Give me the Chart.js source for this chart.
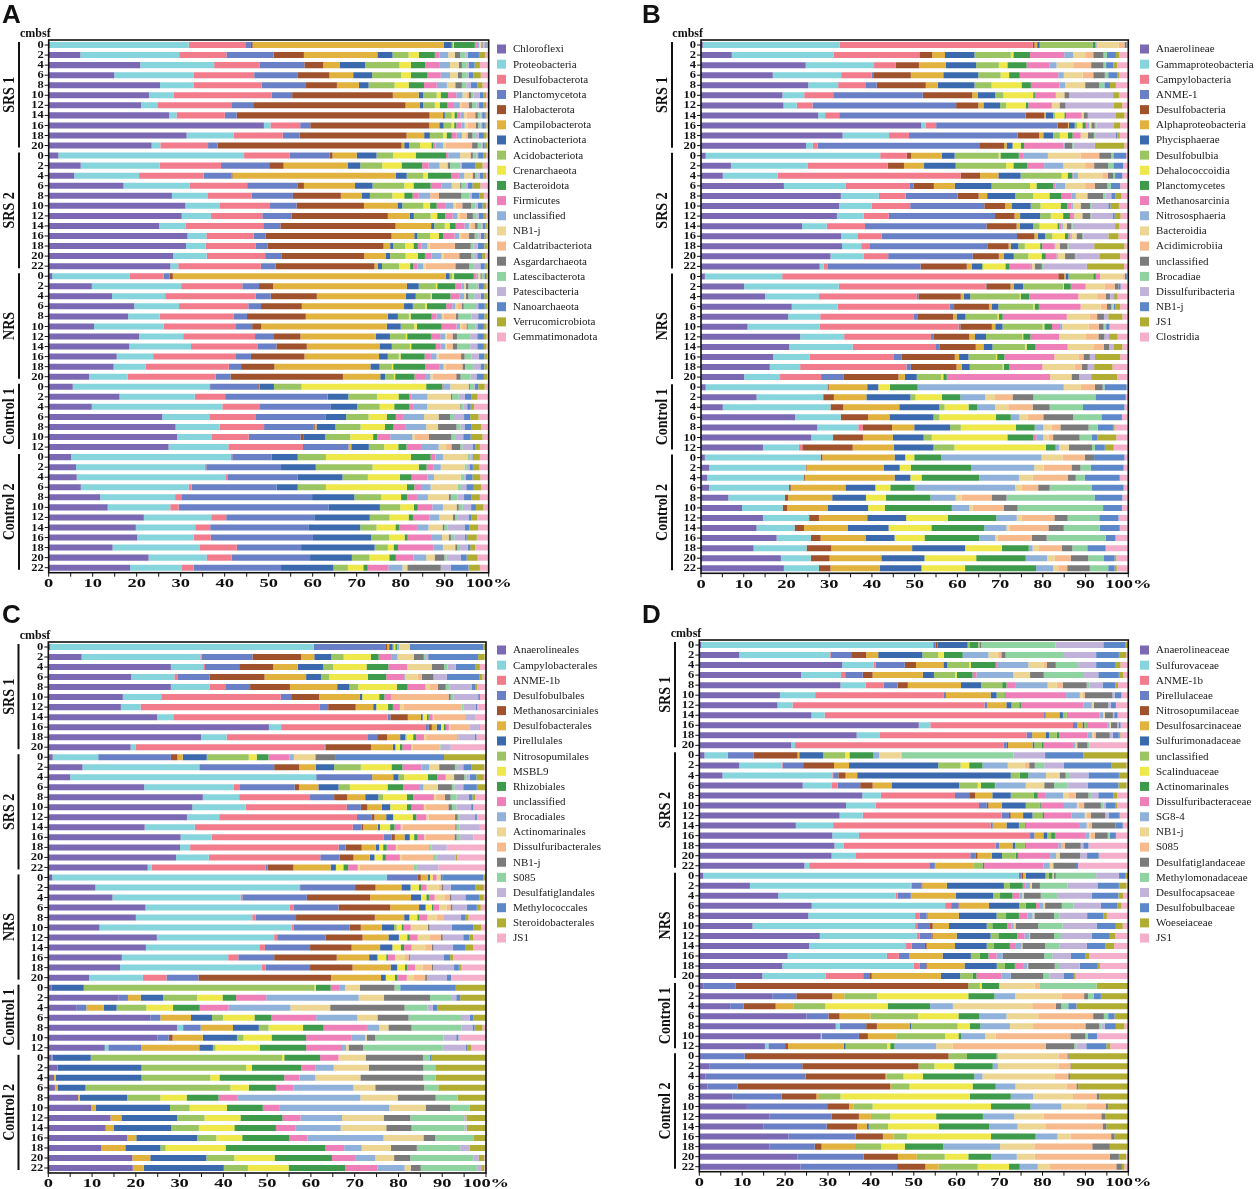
<!DOCTYPE html>
<html>
<head>
<meta charset="utf-8">
<script src="https://cdn.jsdelivr.net/npm/chart.js@4.4.1/dist/chart.umd.min.js"></script>
<style>
  body { margin: 0; background: #fff; }
  #wrap { position: relative; width: 1258px; height: 1189px; }
  canvas { position: absolute; }
</style>
</head>
<body>
<div id="wrap">
  <canvas id="panelA" width="629" height="600" style="left:0;top:0"></canvas>
  <canvas id="panelB" width="618" height="600" style="left:640px;top:0"></canvas>
  <canvas id="panelC" width="629" height="589" style="left:0;top:600px"></canvas>
  <canvas id="panelD" width="618" height="589" style="left:640px;top:600px"></canvas>
</div>
<script>
// sample groups and depth tick labels (cmbsf)
const groupNames = ['SRS 1', 'SRS 2', 'NRS', 'Control 1', 'Control 2'];
const depthsSRS1 = ['0', '2', '4', '6', '8', '10', '12', '14', '16', '18', '20'];
const depthsSRS2 = ['0', '2', '4', '6', '8', '10', '12', '14', '16', '18', '20', '22'];
const depthsNRS = ['0', '2', '4', '6', '8', '10', '12', '14', '16', '18', '20'];
const depthsC1 = ['0', '2', '4', '6', '8', '10', '12'];
const depthsC2 = ['0', '2', '4', '6', '8', '10', '12', '14', '16', '18', '20', '22'];
const xTicks = [0, 10, 20, 30, 40, 50, 60, 70, 80, 90, 100];

const palette = ['#7b69b4', '#86d4dc', '#f27b8c', '#6a80c6', '#a0522d', '#e1b23e', '#3a69ad', '#9bc462',
  '#eee84a', '#3f9b4c', '#ee7fb9', '#8fb1da', '#edd594', '#f7ba8c', '#7b7b7b', '#8fd3a0',
  '#c1b2d9', '#5c87c9', '#b1ad33', '#f6afca'];

// A: phylum
const A_names = ['Chloroflexi', 'Proteobacteria', 'Desulfobacterota', 'Planctomycetota', 'Halobacterota',
  'Campilobacterota', 'Actinobacteriota', 'Acidobacteriota', 'Crenarchaeota', 'Bacteroidota', 'Firmicutes',
  'unclassified', 'NB1-j', 'Caldatribacteriota', 'Asgardarchaeota', 'Latescibacterota', 'Patescibacteria',
  'Nanoarchaeota', 'Verrucomicrobiota', 'Gemmatimonadota'];
const A_SRS1 = [
  [0.2, 32, 13, 1.3, 0.4, 44, 1.8, 0.3, 0.2, 4.8, 0.5, 0.5, 0.3, 0.2, 0.3, 0.2, 0.4, 0.3, 0.3, 0.2],
  [7.1, 22.2, 10.6, 10.6, 6.8, 16.5, 3.4, 3.6, 2.3, 3.6, 1.0, 2.0, 1.5, 0, 1.2, 1.2, 0.5, 2.5, 1.4, 0.8],
  [20.8, 16.8, 10.4, 10.1, 4.3, 3.8, 5.7, 7.8, 2.6, 3.3, 3.3, 2.3, 2.0, 0, 0.7, 1.1, 0.5, 1.3, 1.2, 2.0],
  [14.9, 18.1, 13.7, 9.8, 7.3, 5.4, 4.3, 6.6, 2.2, 3.8, 3.0, 2.1, 1.8, 0, 0.9, 1.1, 0.5, 1.0, 1.7, 1.8],
  [25.3, 7.7, 15.4, 9.9, 7.2, 5.0, 2.2, 5.9, 3.2, 3.5, 2.9, 2.3, 1.9, 0, 1.5, 1.0, 1.0, 1.5, 1.2, 1.4],
  [22.9, 5.6, 22.4, 4.7, 23.0, 5.9, 1.0, 3.1, 0.9, 1.7, 1.9, 1.4, 0.9, 0.6, 0.5, 0.5, 1.5, 0.8, 0.6, 0.6],
  [21.1, 3.7, 16.9, 5.0, 34.8, 3.3, 0.7, 2.7, 1.1, 1.8, 1.5, 1.3, 0.5, 1.5, 0.8, 1.0, 0.6, 1.0, 0.6, 0.6],
  [27.7, 1.7, 11.1, 2.7, 44.4, 3.1, 0.4, 1.6, 0.6, 0.6, 0.8, 0.8, 0.6, 2.0, 0.6, 0.6, 0.4, 0.6, 0.4, 0.5],
  [49.2, 1.5, 6.8, 2.3, 27.2, 2.3, 1.0, 1.8, 0.6, 0.5, 1.2, 0.7, 0.7, 1.8, 0.6, 0.5, 0.4, 0.6, 0.4, 0.5],
  [31.4, 10.7, 11.2, 3.8, 24.4, 4.0, 1.3, 3.0, 0.8, 1.2, 1.1, 1.2, 0.8, 0.5, 1.1, 0.8, 0.6, 1.2, 0.6, 0.5],
  [23.5, 2.0, 10.9, 2.2, 42.0, 0.6, 1.1, 2.5, 2.6, 0.5, 0.5, 1.7, 0.5, 6.1, 1.3, 0.8, 0.4, 0.4, 0.6, 0.3]
];
const A_SRS2 = [
  [2.2, 42.2, 10.4, 9.0, 0.7, 5.5, 4.5, 3.8, 5.1, 6.9, 0.5, 2.7, 2.1, 0.3, 0.5, 0.8, 0.4, 1.2, 0.6, 0.6],
  [7.3, 18.0, 14.0, 11.0, 3.3, 14.7, 2.8, 5.0, 4.4, 4.7, 1.5, 2.5, 1.8, 0, 0.6, 2.3, 0.4, 3.1, 1.6, 1.4],
  [5.8, 14.8, 14.7, 6.4, 0.2, 37.2, 2.5, 3.8, 1.0, 5.4, 1.7, 1.2, 1.7, 0.3, 0.5, 0.6, 0.5, 0.8, 0.6, 0.6],
  [17.0, 15.0, 13.1, 11.4, 1.5, 11.6, 4.0, 7.2, 2.1, 3.9, 2.5, 2.3, 1.9, 0, 0.3, 1.0, 0.5, 1.0, 1.8, 1.9],
  [28.0, 8.2, 9.9, 9.4, 10.9, 4.7, 1.9, 5.1, 2.7, 1.9, 1.4, 2.6, 0, 2.0, 5.1, 1.9, 0.5, 1.7, 1.0, 1.1],
  [31.0, 7.7, 11.5, 6.0, 15.3, 7.6, 1.1, 4.8, 1.5, 1.5, 1.9, 1.9, 0.5, 1.5, 2.0, 1.0, 0.5, 1.1, 0.8, 0.6],
  [30.2, 6.6, 11.7, 6.6, 21.9, 5.0, 0.9, 3.8, 1.5, 1.8, 1.7, 1.1, 0.5, 1.6, 1.4, 0.8, 0.5, 1.0, 0.7, 0.6],
  [25.1, 6.1, 17.6, 3.9, 26.2, 8.1, 0.7, 2.4, 1.1, 1.4, 2.0, 1.0, 0.5, 0.9, 0.6, 0.8, 0.4, 0.5, 0.4, 0.4],
  [31.7, 4.3, 10.8, 2.7, 28.8, 5.2, 0.7, 2.9, 2.0, 1.0, 2.6, 1.0, 0.5, 1.7, 1.4, 0.8, 0.6, 0.8, 0.5, 0.5],
  [31.2, 4.5, 11.3, 2.8, 26.3, 1.5, 0.7, 2.7, 1.9, 1.0, 0.8, 1.4, 0.5, 5.7, 3.6, 0.6, 1.0, 1.5, 0.6, 0.4],
  [28.3, 7.6, 13.3, 3.8, 18.7, 4.9, 1.0, 3.5, 2.8, 1.6, 1.5, 2.2, 0.5, 3.6, 2.7, 0.6, 0.8, 1.1, 0.7, 0.8],
  [27.7, 1.8, 18.8, 3.4, 22.5, 0.7, 1.0, 3.9, 2.5, 0.7, 1.0, 1.3, 0.5, 6.8, 3.2, 1.1, 1.4, 1.0, 0.6, 0.3]
];
const A_NRS = [
  [0.8, 17.7, 7.7, 1.4, 0.7, 62.2, 0.9, 0.6, 0.4, 4.5, 0.6, 0.4, 0.3, 0.2, 0.3, 0.3, 0.3, 0.4, 0.3, 0.3],
  [9.8, 20.3, 13.9, 3.8, 3.2, 30.4, 2.7, 3.9, 0.3, 4.1, 1.4, 0.6, 0.4, 0, 0.6, 1.9, 0.5, 1.1, 0.6, 0.5],
  [14.4, 12.1, 20.6, 3.4, 10.5, 20.2, 2.3, 3.4, 0.3, 4.2, 2.1, 1.0, 0.4, 0, 0.6, 1.3, 1.5, 0.8, 0.6, 0.4],
  [19.5, 10.2, 15.8, 2.9, 9.3, 23.3, 2.0, 2.8, 0.4, 4.4, 1.4, 0.7, 0.4, 1.1, 0.4, 2.8, 0.5, 1.5, 0.6, 0.3],
  [18.1, 7.2, 16.8, 3.1, 13.4, 18.7, 2.3, 2.5, 0.4, 4.8, 1.1, 1.2, 0.5, 2.7, 0.6, 3.0, 1.5, 1.4, 0.6, 0.4],
  [10.4, 16.0, 16.6, 3.7, 2.1, 28.8, 3.2, 3.1, 0.6, 5.7, 3.4, 0.8, 0.5, 1.0, 0.3, 1.7, 0.5, 1.5, 0.6, 0.5],
  [20.5, 10.0, 16.3, 4.3, 6.0, 17.1, 3.2, 3.6, 0.3, 5.4, 2.1, 1.1, 0.4, 1.3, 1.0, 3.0, 1.6, 1.5, 0.6, 0.5],
  [18.3, 14.0, 15.2, 4.2, 6.9, 16.5, 2.8, 4.1, 0.3, 5.6, 1.1, 1.0, 0.4, 1.3, 1.0, 3.0, 1.6, 1.5, 0.6, 0.5],
  [15.5, 8.3, 18.9, 3.4, 12.2, 17.0, 2.0, 2.5, 0.4, 5.5, 1.4, 1.3, 0.5, 5.1, 0.8, 1.6, 1.6, 1.3, 0.6, 0.4],
  [14.8, 7.3, 19.0, 2.8, 7.6, 21.9, 2.1, 2.8, 0.3, 7.3, 3.2, 1.0, 0.5, 3.8, 0.6, 2.0, 1.5, 0.9, 0.6, 0.4],
  [9.2, 8.8, 20.0, 3.4, 25.6, 8.5, 1.1, 2.0, 0.3, 4.4, 2.4, 1.2, 0.5, 5.4, 1.0, 2.3, 1.3, 1.7, 0.7, 0.4]
];
const A_C1 = [
  [5.5, 31.2, 0.2, 11.0, 0.3, 0.1, 3.2, 6.3, 28.5, 3.7, 0.4, 1.4, 4.2, 0, 0.3, 0.7, 0.4, 0.8, 1.5, 0.9],
  [16.1, 17.1, 6.9, 23.3, 0, 0, 4.7, 6.5, 4.9, 2.5, 0.5, 3.6, 5.3, 0, 0.3, 1.5, 1.4, 1.5, 1.4, 2.5],
  [9.8, 29.7, 8.4, 16.3, 0, 0, 6.0, 5.1, 3.3, 3.5, 0.8, 3.2, 7.4, 0, 0.2, 0.7, 0.8, 0.8, 0.8, 3.3],
  [25.8, 10.7, 10.6, 15.9, 0, 0, 4.6, 5.1, 4.1, 2.1, 1.6, 4.8, 3.3, 0, 2.6, 0.9, 2.3, 1.4, 1.9, 2.3],
  [28.8, 10.0, 10.1, 11.3, 0.2, 0.4, 4.3, 5.7, 5.5, 2.0, 2.8, 4.6, 2.7, 0, 4.2, 0.9, 0.9, 1.5, 2.3, 1.7],
  [29.2, 7.8, 8.5, 11.8, 0.6, 0, 5.0, 5.7, 5.2, 0.9, 3.0, 5.0, 0.6, 3.2, 5.1, 0.8, 1.9, 1.7, 2.7, 1.4],
  [27.3, 13.6, 17.0, 10.4, 0, 0.6, 4.0, 3.5, 3.2, 1.9, 3.3, 4.0, 1.7, 1.2, 2.0, 0.5, 2.3, 0.6, 1.1, 2.0]
];
const A_C2 = [
  [5.1, 36.3, 0.3, 9.0, 0, 0, 5.9, 6.4, 19.3, 4.5, 1.1, 1.7, 5.7, 0, 0, 0.5, 0.5, 0.3, 1.4, 2.0],
  [6.2, 29.3, 0.3, 17.0, 0, 0, 7.9, 12.9, 10.5, 1.8, 1.5, 1.7, 5.4, 0, 0, 0.5, 0.6, 0.8, 1.5, 2.1],
  [6.4, 34.1, 0.3, 16.1, 0, 0, 10.2, 5.8, 7.3, 2.7, 3.6, 1.5, 6.1, 0, 0, 0.8, 0.4, 1.5, 1.8, 1.9],
  [7.3, 24.5, 0.7, 19.3, 0, 0, 4.8, 6.4, 18.4, 1.7, 1.5, 2.2, 6.1, 0, 0, 0.8, 1.2, 1.7, 1.7, 1.7],
  [11.7, 17.0, 1.4, 29.7, 0, 0, 9.6, 6.1, 4.5, 1.4, 2.2, 2.5, 4.7, 0, 0.5, 1.5, 1.5, 1.6, 2.0, 2.0],
  [13.4, 14.2, 1.9, 34.0, 0, 0, 11.7, 4.6, 3.1, 0.9, 3.3, 2.4, 3.1, 0, 0.5, 0.9, 1.9, 1.1, 1.7, 1.2],
  [21.6, 15.3, 3.4, 20.0, 0, 0, 12.6, 4.5, 4.3, 1.0, 3.7, 2.3, 3.1, 0, 0.5, 0.6, 2.4, 0.6, 1.4, 2.6],
  [19.8, 13.5, 3.4, 22.3, 0, 0, 11.8, 3.7, 4.3, 0.8, 4.3, 2.4, 3.2, 0, 0.4, 0.8, 3.8, 1.1, 2.0, 2.4],
  [20.1, 12.8, 3.9, 23.2, 0, 0, 13.2, 4.1, 3.5, 0.7, 5.5, 2.3, 1.5, 0, 0.5, 0.8, 2.4, 0.4, 2.3, 2.7],
  [14.5, 19.7, 8.5, 14.6, 0, 0, 16.7, 3.0, 1.3, 1.0, 8.1, 2.1, 2.8, 0, 0.5, 0.6, 1.7, 0.6, 1.1, 3.1],
  [22.7, 13.2, 5.7, 17.8, 0, 0, 9.5, 4.0, 4.5, 1.5, 4.0, 2.9, 1.9, 0, 2.2, 0.5, 3.3, 1.3, 2.5, 2.5],
  [18.5, 11.8, 2.6, 19.9, 0, 0, 11.9, 3.3, 3.5, 1.0, 4.7, 3.2, 1.1, 0, 7.6, 0.3, 2.0, 4.0, 2.6, 2.0]
];

// B: class
const B_names = ['Anaerolineae', 'Gammaproteobacteria', 'Campylobacteria', 'ANME-1', 'Desulfobacteria',
  'Alphaproteobacteria', 'Phycisphaerae', 'Desulfobulbia', 'Dehalococcoidia', 'Planctomycetes', 'Methanosarcinia',
  'Nitrososphaeria', 'Bacteroidia', 'Acidimicrobiia', 'unclassified', 'Brocadiae', 'Dissulfuribacteria',
  'NB1-j', 'JS1', 'Clostridia'];
const B_SRS1 = [
  [0.4, 32.1, 45.4, 0, 0.4, 0.6, 0.6, 12.4, 0, 0.6, 0.3, 0.2, 5.0, 1.4, 0.5, 0, 0, 0.2, 0, 0.2],
  [7.2, 23.8, 20.1, 0, 3.0, 3.0, 6.9, 8.5, 0.6, 3.9, 8.0, 2.1, 2.8, 1.9, 2.4, 0.8, 0, 2.1, 0.8, 2.1],
  [24.5, 16.0, 5.1, 0, 5.4, 6.3, 7.1, 5.3, 2.0, 4.5, 5.3, 1.7, 3.9, 4.2, 2.9, 0.6, 0, 1.7, 0.9, 2.6],
  [16.8, 16.0, 7.1, 0.4, 8.8, 7.6, 8.2, 5.2, 2.0, 2.5, 9.0, 1.3, 4.4, 2.5, 2.7, 0.8, 0, 2.1, 0.5, 2.1],
  [25.1, 7.0, 6.5, 2.5, 11.5, 2.8, 8.6, 4.0, 7.0, 2.2, 6.7, 1.3, 4.7, 0, 3.3, 1.2, 0, 1.3, 1.4, 2.9],
  [19.1, 5.1, 6.8, 21.0, 11.6, 1.3, 4.1, 1.9, 7.0, 0.4, 4.9, 0, 2.0, 0, 1.1, 0, 10.2, 0.2, 1.3, 2.2],
  [19.3, 3.1, 3.7, 33.6, 5.2, 1.2, 3.9, 1.4, 4.6, 0.6, 5.5, 0, 1.8, 0, 1.4, 0, 11.2, 0, 2.1, 1.4],
  [27.5, 1.6, 3.3, 43.7, 4.4, 0.3, 1.8, 0.4, 2.2, 0.4, 3.5, 0.2, 0.4, 0, 1.0, 0, 6.6, 0, 2.0, 0.9],
  [51.8, 1.0, 2.5, 28.6, 2.4, 0.2, 1.4, 0.6, 1.2, 0.8, 0.5, 0.3, 0.5, 0, 0.8, 0.4, 4.0, 0, 1.6, 1.9],
  [33.3, 10.9, 4.7, 25.6, 5.0, 1.0, 2.3, 1.6, 1.9, 1.1, 1.9, 0, 1.7, 0, 1.4, 0.3, 4.8, 0.4, 0.6, 2.0],
  [24.5, 1.6, 1.1, 37.9, 5.6, 0.6, 1.4, 0, 1.9, 0.8, 9.2, 0.3, 0, 0, 1.7, 0.3, 5.0, 0, 6.9, 0.9]
];
const B_SRS2 = [
  [1.1, 40.8, 6.2, 0, 1.0, 7.2, 3.0, 10.3, 0.4, 4.3, 1.0, 5.8, 7.6, 4.4, 2.8, 0.5, 0, 3.0, 0, 0.5],
  [7.0, 17.9, 18.8, 0, 3.8, 4.7, 7.4, 11.8, 1.7, 3.3, 3.9, 4.5, 5.1, 2.1, 3.3, 1.2, 0, 2.3, 0, 1.2],
  [5.1, 12.8, 42.9, 0, 4.5, 4.3, 5.2, 9.6, 1.4, 1.1, 0.3, 1.0, 5.7, 1.3, 1.3, 0.4, 0, 1.7, 0, 1.4],
  [19.4, 14.4, 15.1, 0.9, 4.7, 4.9, 8.6, 9.0, 1.5, 3.9, 0.6, 2.2, 4.7, 2.3, 2.9, 0.8, 0, 2.2, 0, 1.9],
  [32.8, 8.9, 6.3, 12.2, 4.9, 2.0, 6.6, 4.2, 3.8, 2.8, 2.4, 1.0, 2.7, 0, 3.7, 0.5, 1.4, 0.9, 1.5, 1.6],
  [32.4, 7.7, 9.0, 17.4, 4.9, 1.5, 4.5, 2.3, 4.7, 1.6, 1.0, 0.3, 1.8, 0, 2.2, 0.3, 4.0, 0.5, 2.0, 2.2],
  [31.9, 6.3, 5.9, 24.9, 4.6, 1.3, 4.7, 2.5, 2.9, 1.6, 0.7, 0.3, 1.9, 0, 1.9, 0.3, 4.9, 0.5, 1.4, 1.8],
  [23.8, 5.8, 9.0, 28.6, 7.1, 0.7, 3.2, 1.5, 4.2, 0.5, 0.5, 0.3, 0.9, 0, 1.1, 0.3, 10.0, 0, 0.9, 2.2],
  [33.0, 3.8, 5.7, 31.9, 4.1, 0.8, 1.7, 1.7, 3.0, 0.8, 0.5, 0.3, 1.1, 0, 1.4, 0.3, 5.8, 0, 2.4, 2.3],
  [33.1, 4.5, 1.9, 27.7, 5.0, 0.5, 1.8, 1.5, 3.6, 0.5, 2.9, 0.2, 1.0, 0, 1.8, 0.3, 6.0, 0, 7.1, 0.9],
  [30.3, 7.8, 5.7, 19.8, 6.1, 1.2, 2.3, 3.4, 3.1, 1.0, 2.5, 0.3, 1.7, 0, 2.3, 0.3, 5.4, 0, 4.9, 1.9],
  [28.0, 0.9, 0.9, 22.0, 10.9, 1.2, 2.4, 0.3, 5.2, 1.0, 5.0, 0.3, 0.6, 0, 1.7, 0.3, 10.3, 0, 8.8, 1.0]
];
const B_NRS = [
  [0.9, 18.1, 64.6, 0, 1.4, 0.3, 0.7, 5.8, 0, 0.6, 1.0, 0, 5.2, 0.6, 0.3, 0, 0, 0.2, 0, 0.3],
  [10.1, 22.2, 34.4, 0.2, 5.7, 0.7, 2.2, 9.4, 0.2, 1.6, 3.5, 0, 4.4, 2.4, 0.9, 0, 0, 0.5, 0, 1.8],
  [15.0, 12.6, 22.9, 0.4, 9.9, 0.7, 1.5, 11.6, 0.2, 2.0, 11.5, 0, 4.4, 2.0, 1.0, 0, 0.8, 0.2, 0.8, 2.5],
  [21.3, 10.8, 26.3, 1.0, 8.2, 0.6, 1.6, 8.2, 0.3, 1.0, 9.8, 0, 4.7, 1.5, 1.0, 0.3, 0.3, 0.3, 1.2, 1.9],
  [20.4, 7.5, 21.8, 0.9, 8.4, 0.8, 2.1, 7.5, 0.3, 0.9, 15.0, 0, 5.3, 1.8, 1.6, 0, 1.0, 0, 3.3, 1.4],
  [10.9, 16.9, 32.6, 0.4, 7.4, 0.8, 1.7, 9.4, 0.4, 1.8, 1.9, 0.5, 6.2, 2.4, 1.1, 0.3, 0.3, 0.8, 0, 4.4],
  [23.2, 10.3, 20.3, 0.7, 8.3, 1.3, 2.6, 8.5, 0.2, 1.7, 6.7, 0, 6.3, 2.9, 1.4, 0, 1.1, 0, 2.0, 2.5],
  [20.6, 14.9, 19.5, 0.9, 8.4, 1.8, 2.1, 7.6, 0.4, 2.1, 7.5, 0, 6.0, 2.5, 1.2, 0, 1.0, 0, 2.1, 1.4],
  [16.9, 8.5, 19.6, 2.0, 12.4, 1.0, 2.2, 6.4, 0.3, 1.7, 11.7, 0, 5.6, 1.2, 1.5, 0, 1.2, 0, 5.9, 1.9],
  [16.1, 7.1, 24.9, 1.0, 10.7, 1.2, 1.9, 7.7, 0.3, 1.3, 7.7, 0, 7.5, 1.7, 1.4, 0, 1.5, 0, 4.3, 3.7],
  [10.1, 8.4, 9.6, 5.2, 12.9, 1.5, 2.8, 5.7, 0.5, 0.8, 24.2, 0, 5.0, 0, 1.8, 0, 2.8, 0, 6.1, 2.6]
];
const B_C1 = [
  [1.1, 28.5, 0, 0, 0.3, 9.0, 2.6, 0, 2.7, 6.5, 0, 34.2, 4.0, 3.3, 1.8, 0.4, 0, 5.2, 0, 0.4],
  [13.0, 15.6, 0, 0, 2.5, 7.6, 10.3, 1.2, 6.2, 4.3, 0, 5.8, 2.3, 4.1, 4.9, 14.5, 0, 7.1, 0, 0.6],
  [5.1, 25.2, 0, 0, 3.0, 13.1, 9.4, 1.2, 5.6, 2.1, 0, 4.1, 3.1, 5.7, 4.0, 7.8, 0, 9.7, 0, 0.9],
  [22.0, 10.7, 0, 0, 6.4, 5.0, 10.3, 1.4, 13.2, 3.5, 0, 2.0, 1.9, 3.7, 7.0, 6.6, 0, 4.8, 0, 1.5],
  [27.2, 9.6, 1.1, 0, 6.8, 5.2, 8.4, 2.5, 12.9, 4.4, 0, 2.0, 1.9, 2.1, 6.6, 2.1, 0, 3.6, 0.4, 3.2],
  [25.8, 5.1, 0, 0, 7.0, 7.0, 7.2, 1.9, 17.7, 6.1, 0.7, 1.6, 1.2, 1.1, 6.2, 2.8, 0, 1.4, 4.4, 2.8],
  [14.5, 8.4, 0.8, 0, 11.8, 9.6, 9.3, 4.9, 21.4, 2.3, 0, 0.8, 2.3, 0, 5.4, 0.7, 0, 2.3, 2.1, 3.4]
];
const B_C2 = [
  [0.9, 27.1, 0, 0, 0.4, 16.9, 2.5, 0, 2.1, 6.3, 0, 23.5, 4.9, 5.2, 2.2, 0, 0, 7.1, 0, 0.9],
  [1.9, 22.6, 0, 0, 0.2, 18.1, 3.7, 0, 2.6, 14.1, 0, 14.8, 2.2, 6.5, 2.1, 2.4, 0, 7.7, 0, 1.1],
  [1.4, 22.6, 0, 0, 0.3, 21.0, 3.7, 0, 2.6, 13.5, 0, 9.3, 3.2, 8.2, 1.9, 2.1, 0, 8.2, 0, 2.0],
  [1.9, 18.7, 0, 0, 0.4, 12.8, 7.0, 0, 3.5, 5.7, 0, 23.5, 1.5, 3.9, 2.7, 9.8, 0, 7.5, 0, 1.1],
  [6.4, 13.2, 0, 0, 0.8, 10.3, 7.9, 0, 4.7, 10.4, 0, 5.9, 1.4, 7.0, 3.5, 20.6, 0, 6.5, 0, 1.4],
  [9.6, 9.5, 0, 0, 1.1, 9.5, 9.4, 0, 3.9, 15.7, 0, 4.1, 0.8, 7.2, 3.3, 20.0, 0, 4.4, 0, 1.5],
  [14.5, 10.8, 0, 0, 2.3, 11.3, 9.1, 0, 9.8, 11.3, 0, 4.8, 1.1, 7.7, 3.1, 7.4, 0, 4.5, 0, 2.3],
  [13.0, 8.9, 0, 0, 2.2, 10.3, 9.5, 0, 10.0, 12.4, 0, 5.2, 0.7, 9.1, 3.6, 8.4, 0, 4.7, 0, 2.0],
  [17.7, 8.0, 0, 0, 2.3, 10.6, 6.7, 0, 7.0, 12.8, 0, 3.7, 0.6, 8.0, 3.5, 13.8, 0, 2.3, 0, 3.0],
  [12.3, 12.4, 0, 0, 5.8, 18.9, 12.4, 0, 8.6, 6.3, 0, 0.9, 1.5, 5.3, 2.5, 3.5, 0, 4.3, 0, 5.3],
  [18.7, 7.0, 0, 0, 4.4, 12.1, 10.1, 0, 12.1, 11.6, 0, 5.0, 1.8, 3.7, 4.1, 3.6, 0, 2.6, 0.4, 2.8],
  [19.4, 8.2, 0, 0, 2.7, 11.5, 9.8, 0, 10.2, 16.6, 0, 4.0, 1.2, 2.1, 5.3, 4.3, 0, 1.5, 0.5, 2.7]
];

// C: order
const C_names = ['Anaerolineales', 'Campylobacterales', 'ANME-1b', 'Desulfobulbales', 'Methanosarciniales',
  'Desulfobacterales', 'Pirellulales', 'Nitrosopumilales', 'MSBL9', 'Rhizobiales', 'unclassified',
  'Brocadiales', 'Actinomarinales', 'Dissulfuribacterales', 'NB1-j', 'S085', 'Desulfatiglandales',
  'Methylococcales', 'Steroidobacterales', 'JS1'];
const C_SRS1 = [
  [0.4, 60.4, 0, 16.4, 0.5, 0.4, 0.8, 0.3, 0.3, 0.4, 0.2, 0.3, 2.4, 0, 0, 0, 0, 16.9, 0.6, 0],
  [7.6, 27.1, 0.3, 11.6, 11.1, 3.0, 3.9, 2.8, 6.2, 1.8, 3.0, 1.3, 3.7, 0, 2.3, 0.5, 0.5, 11.4, 1.5, 0.3],
  [28.0, 7.4, 0.4, 7.8, 7.8, 5.6, 5.8, 2.3, 7.6, 5.0, 4.3, 0, 5.6, 0, 2.8, 0.8, 1.9, 4.4, 1.1, 1.4],
  [18.9, 9.9, 0.8, 7.3, 12.5, 9.5, 3.4, 1.9, 8.8, 4.2, 4.1, 0.2, 2.9, 0.9, 2.7, 0, 3.0, 7.4, 0.8, 0.8],
  [28.0, 8.9, 3.7, 5.5, 9.1, 10.8, 2.8, 2.0, 8.8, 2.5, 4.1, 0, 1.0, 1.8, 1.8, 0.8, 5.1, 0.8, 0.5, 2.0],
  [17.1, 8.8, 27.4, 2.4, 6.4, 9.3, 0.6, 0, 3.9, 1.2, 1.6, 0, 0, 13.1, 0.5, 0.6, 5.7, 0.4, 0, 1.4],
  [16.6, 4.5, 41.0, 1.9, 6.3, 4.0, 0.7, 0, 2.7, 1.1, 1.6, 0, 0.8, 13.3, 0, 0.4, 2.9, 0.3, 0, 2.0],
  [24.9, 3.7, 49.1, 0.6, 4.0, 3.0, 0.4, 0, 1.0, 0.4, 0.9, 0, 0.3, 7.1, 0, 0.2, 2.1, 0, 0, 2.5],
  [50.5, 2.8, 33.0, 0.8, 0.7, 1.1, 1.0, 0, 0.6, 0.5, 0.7, 0, 0.3, 4.5, 0, 0, 2.0, 0.2, 0, 1.5],
  [35.2, 5.9, 32.6, 2.1, 2.3, 3.0, 1.2, 0.3, 1.5, 0.7, 1.8, 0, 0.5, 7.1, 0, 0.3, 3.8, 0.4, 0, 2.2],
  [18.9, 1.1, 43.4, 0.3, 10.4, 5.0, 0.6, 0, 1.0, 0.6, 2.1, 0, 0.3, 6.2, 0, 0.2, 2.3, 0, 0, 8.1]
];
const C_SRS2 = [
  [1.0, 10.4, 0, 16.6, 1.5, 1.2, 5.5, 9.6, 1.8, 2.7, 4.8, 1.0, 4.9, 0, 4.7, 0, 0, 24.7, 9.6, 0],
  [7.8, 26.7, 0, 17.1, 5.7, 3.8, 4.2, 6.1, 7.0, 2.5, 4.4, 1.7, 2.3, 0, 3.6, 0.5, 1.4, 1.8, 3.0, 0.4],
  [5.0, 56.2, 0, 12.8, 0, 4.8, 1.2, 1.3, 5.4, 2.2, 1.9, 0, 1.9, 0, 2.3, 0.5, 0.8, 1.5, 1.7, 0.5],
  [21.9, 20.5, 1.4, 12.5, 1.0, 4.4, 4.6, 2.6, 8.6, 3.6, 3.8, 0.8, 3.3, 0, 3.2, 0.6, 2.0, 3.1, 1.9, 0.2],
  [35.3, 8.3, 16.2, 5.5, 3.0, 4.1, 3.0, 1.1, 5.4, 1.5, 4.7, 0, 0.5, 2.0, 1.3, 1.4, 2.7, 0.9, 0.6, 2.5],
  [32.9, 12.2, 23.1, 3.2, 1.5, 3.3, 1.9, 0, 3.8, 1.1, 2.8, 0, 0.5, 5.1, 0.8, 1.0, 3.4, 0.5, 0, 2.9],
  [31.8, 7.4, 31.6, 3.3, 0.7, 2.7, 1.6, 0, 4.5, 0.8, 2.3, 0, 0.5, 6.1, 0.6, 0.5, 3.5, 0.4, 0, 2.1],
  [21.9, 11.4, 35.9, 2.0, 0.4, 3.3, 0.5, 0, 2.3, 1.0, 1.4, 0, 0.4, 12.0, 0.3, 0.7, 4.6, 0, 0, 1.4],
  [30.2, 7.1, 39.2, 1.9, 0.7, 2.2, 1.2, 0, 1.0, 0.8, 1.5, 0, 0.4, 6.5, 0.5, 0.8, 3.0, 0, 0, 2.9],
  [30.1, 2.3, 33.9, 1.6, 3.7, 3.2, 0.8, 0, 0.9, 0.8, 2.1, 0, 0.5, 7.1, 0, 0.6, 3.4, 0, 0, 9.0],
  [29.2, 7.5, 25.5, 4.4, 3.2, 3.7, 1.1, 0, 1.8, 0.8, 3.2, 0, 0.5, 7.1, 0, 0.8, 4.4, 0, 0.3, 6.6],
  [22.7, 0.9, 26.1, 0.4, 5.9, 8.5, 1.2, 0, 1.7, 1.1, 2.2, 0, 0.4, 12.3, 0, 0.8, 4.9, 0, 0, 10.9]
];
const C_NRS = [
  [0.9, 76.4, 0, 7.0, 0.8, 1.6, 0.5, 0, 0.6, 0, 0.9, 0, 0.9, 0, 0.4, 0, 0, 9.4, 0.6, 0],
  [10.8, 46.7, 0.2, 12.6, 4.7, 5.9, 2.1, 0, 1.9, 0.6, 1.2, 0, 2.8, 0.6, 0.4, 0, 1.7, 5.7, 1.9, 0.5],
  [14.6, 29.2, 0.4, 14.7, 14.4, 9.3, 2.3, 0, 1.2, 0.6, 1.3, 0, 2.2, 1.2, 0.4, 0, 3.2, 3.1, 1.1, 0.5],
  [22.2, 32.9, 1.0, 10.2, 11.8, 6.6, 1.5, 0, 1.4, 0.4, 1.3, 0, 1.7, 0.9, 0.4, 0, 3.3, 2.3, 0.9, 1.2],
  [20.0, 26.6, 0.8, 9.2, 18.0, 6.7, 1.2, 0, 1.8, 0.5, 1.8, 0, 2.1, 1.7, 0, 0, 3.9, 0.9, 0.8, 4.0],
  [11.7, 43.9, 0.5, 12.7, 2.6, 4.8, 2.8, 0.6, 1.1, 0.5, 1.6, 0, 3.9, 0, 0.4, 0, 5.1, 4.9, 1.8, 1.1],
  [24.8, 26.8, 0.7, 11.1, 8.4, 5.9, 2.4, 0, 1.9, 0.6, 1.8, 0, 2.8, 2.5, 0.4, 0, 4.7, 1.4, 0.9, 2.9],
  [22.3, 25.9, 1.3, 10.3, 9.5, 6.5, 2.8, 0, 1.9, 0.8, 1.7, 0, 3.1, 1.5, 0.4, 0, 4.4, 2.8, 1.9, 2.9],
  [16.8, 24.3, 2.3, 8.2, 14.3, 7.4, 1.9, 0, 2.0, 0.4, 1.6, 0, 2.3, 0.8, 0.3, 0, 7.8, 1.4, 0.7, 7.5],
  [16.4, 32.3, 1.0, 10.1, 9.7, 8.7, 1.5, 0, 1.8, 0.5, 1.8, 0, 1.7, 2.1, 0.3, 0, 4.8, 1.1, 0.6, 5.6],
  [9.3, 12.3, 5.4, 7.3, 30.3, 11.4, 1.1, 0, 2.1, 0.6, 2.1, 0, 1.5, 2.7, 0.4, 0, 4.5, 1.0, 0, 8.0]
];
const C_C1 = [
  [0.8, 0, 0, 0, 0, 0, 7.3, 52.7, 0.3, 3.4, 2.1, 1.2, 3.4, 0, 7.9, 1.3, 0, 12.7, 6.9, 0],
  [16.1, 0, 0, 2.1, 0, 2.9, 5.1, 7.8, 5.8, 3.1, 6.9, 21.1, 5.8, 0, 10.5, 5.0, 1.0, 0.9, 5.7, 0.2],
  [6.5, 0, 0, 2.2, 0, 4.0, 2.9, 6.8, 6.1, 6.1, 6.6, 14.1, 9.1, 0, 17.0, 5.2, 1.2, 1.1, 11.1, 0],
  [23.3, 0, 0, 2.3, 0, 7.0, 4.8, 2.5, 7.2, 3.9, 10.2, 9.4, 4.6, 0, 7.1, 12.0, 2.0, 0.8, 2.9, 0],
  [29.4, 1.4, 0, 4.0, 0, 7.4, 5.9, 2.2, 7.9, 4.7, 9.9, 2.8, 2.1, 0, 5.3, 11.4, 2.5, 0.5, 1.8, 0.8],
  [24.9, 0, 0, 2.6, 0.9, 6.9, 7.8, 1.5, 6.4, 7.9, 10.3, 3.2, 0.4, 0, 1.9, 15.6, 2.9, 0.5, 0, 6.3],
  [12.9, 0.8, 0, 7.5, 0, 13.3, 3.1, 0.6, 10.1, 10.6, 8.2, 0.9, 0.6, 0, 3.3, 18.2, 5.3, 0.4, 0.8, 3.4]
];
const C_C2 = [
  [0.7, 0, 0, 0.3, 0, 0, 8.7, 43.7, 0.5, 8.2, 4.2, 0, 6.2, 0, 13.1, 1.6, 0, 0.4, 12.4, 0],
  [2.1, 0, 0, 0, 0, 0, 19.2, 23.9, 1.3, 11.3, 3.3, 4.1, 8.0, 0, 12.5, 2.7, 0, 0, 11.6, 0],
  [1.3, 0, 0, 0, 0, 0.4, 19.6, 15.7, 2.1, 14.8, 3.5, 3.6, 10.3, 0, 14.4, 2.8, 0, 0, 11.5, 0],
  [1.5, 0, 0, 0, 0, 0.6, 6.4, 33.1, 4.2, 6.2, 4.0, 13.7, 5.0, 0, 11.2, 3.2, 0, 0, 10.9, 0],
  [6.8, 0, 0, 0, 0, 0.4, 10.8, 7.6, 6.0, 7.3, 4.4, 28.0, 8.5, 0, 8.7, 5.0, 0, 0, 6.5, 0],
  [9.8, 0, 0, 0, 0, 1.0, 17.0, 4.5, 8.5, 8.2, 3.9, 25.0, 8.3, 0, 5.6, 4.4, 0, 0, 3.8, 0],
  [14.2, 0, 0, 0, 0, 2.5, 12.7, 6.3, 8.2, 9.6, 4.1, 9.5, 9.5, 0, 6.1, 12.3, 0.5, 0, 4.5, 0],
  [13.1, 0, 0, 0, 0, 1.9, 13.1, 6.3, 8.1, 9.5, 4.4, 10.4, 10.4, 0, 5.8, 12.1, 0.5, 0, 4.4, 0],
  [18.0, 0, 0, 0, 0, 2.1, 13.9, 4.4, 5.9, 10.8, 4.1, 17.4, 9.1, 0, 2.7, 8.7, 0, 0, 2.9, 0],
  [12.1, 0, 0, 0, 0, 5.5, 8.0, 1.2, 13.7, 22.8, 4.3, 4.0, 6.7, 0, 5.9, 9.9, 2.2, 0, 3.5, 0.2],
  [19.2, 0, 0, 0, 0, 4.1, 12.8, 6.4, 9.2, 13.1, 5.3, 4.6, 4.3, 0, 3.7, 14.4, 1.2, 0, 1.3, 0.4],
  [19.3, 0, 0, 0, 0, 2.5, 18.3, 5.5, 9.3, 12.9, 7.4, 6.2, 1.4, 0, 2.3, 12.8, 1.0, 0, 0.7, 0.4]
];

// D: family
const D_names = ['Anaerolineaceae', 'Sulfurovaceae', 'ANME-1b', 'Pirellulaceae', 'Nitrosopumilaceae',
  'Desulfosarcinaceae', 'Sulfurimonadaceae', 'unclassified', 'Scalinduaceae', 'Actinomarinales',
  'Dissulfuribacteraceae', 'SG8-4', 'NB1-j', 'S085', 'Desulfatiglandaceae', 'Methylomonadaceae',
  'Desulfocapsaceae', 'Desulfobulbaceae', 'Woeseiaceae', 'JS1'];
const D_SRS1 = [
  [0.4, 53.9, 0, 0.6, 0.4, 0, 7.0, 0.4, 0, 2.1, 0, 0, 0.2, 0, 0.4, 17.3, 11.1, 5.2, 0.6, 0],
  [9.3, 21.2, 0.2, 4.7, 3.5, 2.8, 10.3, 3.7, 1.3, 4.4, 0, 6.0, 2.1, 0.9, 1.0, 13.6, 7.5, 5.3, 1.7, 0.5],
  [33.3, 7.3, 0.5, 6.8, 2.6, 6.4, 0.9, 5.1, 0.4, 5.8, 0.5, 7.1, 3.5, 0.8, 2.1, 5.2, 4.2, 4.4, 1.3, 1.8],
  [23.7, 9.3, 1.0, 4.1, 2.3, 11.7, 2.6, 4.9, 0.4, 3.7, 0.9, 8.6, 3.9, 0, 3.2, 9.4, 3.3, 4.8, 1.0, 1.2],
  [32.9, 5.9, 4.2, 3.2, 2.4, 12.4, 4.7, 4.9, 0, 1.0, 2.2, 7.4, 2.1, 1.4, 5.6, 0.6, 3.1, 3.0, 0.6, 2.4],
  [18.8, 8.2, 29.9, 0.6, 0, 10.4, 1.4, 1.8, 0, 0.3, 14.1, 3.2, 0.6, 0.6, 6.4, 0, 0.5, 1.6, 0, 1.6],
  [18.2, 3.5, 44.7, 0.6, 0, 4.5, 1.2, 1.8, 0, 0.4, 14.6, 1.9, 0.5, 0, 3.3, 0, 0.6, 1.2, 0, 2.9],
  [26.2, 3.1, 51.3, 0.4, 0, 3.2, 0.8, 0.9, 0, 0.2, 7.5, 0.8, 0.4, 0, 1.9, 0, 0.3, 0.8, 0, 2.5],
  [51.2, 2.7, 33.3, 1.0, 0, 1.2, 0.4, 0.5, 0, 0.2, 4.8, 0.4, 0.3, 0, 1.5, 0, 0.3, 0.5, 0, 1.8],
  [36.5, 5.4, 34.0, 1.3, 0, 3.1, 0.8, 1.8, 0, 0.6, 6.6, 1.0, 0.4, 0.5, 3.2, 0, 0.7, 1.4, 0.4, 1.8],
  [21.4, 0.9, 48.6, 0.7, 0.3, 5.7, 0.4, 1.8, 0, 0.4, 6.8, 0.6, 0.4, 0, 2.4, 0.4, 0, 0, 0, 9.1]
];
const D_SRS2 = [
  [1.2, 5.4, 0, 6.0, 10.3, 0.4, 5.6, 5.1, 1.0, 5.6, 0, 1.3, 5.0, 0.2, 0, 26.1, 7.4, 8.9, 10.5, 0],
  [9.3, 9.9, 0.2, 4.8, 7.2, 3.5, 20.8, 5.2, 2.0, 3.1, 0, 5.9, 4.0, 1.0, 1.3, 2.2, 4.6, 11.1, 3.5, 0.4],
  [5.4, 25.6, 0.2, 1.2, 1.7, 2.7, 35.8, 2.1, 0, 2.0, 0, 4.1, 3.0, 0.2, 1.4, 1.0, 4.3, 7.1, 2.0, 0.2],
  [24.1, 6.7, 1.4, 5.3, 2.9, 4.4, 15.8, 4.3, 0.7, 3.3, 0.2, 7.0, 4.3, 0, 2.3, 3.2, 4.6, 7.2, 1.9, 0.4],
  [38.0, 4.3, 17.3, 3.3, 1.4, 4.0, 4.3, 5.3, 0, 1.0, 1.7, 4.2, 1.2, 1.8, 2.9, 0.8, 1.5, 3.5, 0.9, 2.6],
  [34.2, 6.9, 24.1, 1.8, 0.4, 3.1, 5.6, 3.2, 0, 0.3, 5.4, 3.0, 0.4, 1.3, 3.9, 0.6, 0.6, 2.1, 0.5, 2.6],
  [32.8, 5.4, 32.5, 1.7, 0.4, 2.9, 2.2, 2.3, 0, 0.4, 6.4, 3.1, 0.5, 0.9, 3.4, 0, 0.8, 2.4, 0.3, 1.9],
  [22.5, 8.7, 36.7, 0.5, 0, 3.2, 2.9, 1.4, 0, 0.2, 12.4, 1.8, 0.4, 0.8, 5.5, 0, 0, 1.7, 0, 1.3],
  [31.0, 6.2, 39.9, 1.0, 0, 2.1, 0.9, 0.9, 0, 0.9, 7.2, 0.8, 0.3, 1.0, 3.0, 0.5, 0, 1.4, 0, 2.9],
  [31.5, 2.1, 35.5, 0.8, 0, 3.1, 0.6, 2.3, 0, 0.2, 7.6, 0.6, 0, 0.9, 3.7, 0, 0.6, 1.2, 0, 9.3],
  [30.8, 5.7, 26.6, 1.3, 0.4, 3.3, 2.4, 3.2, 0, 0.5, 7.5, 1.4, 0.8, 0, 4.8, 0, 1.6, 2.7, 0.2, 6.7],
  [24.5, 1.1, 28.0, 1.3, 0, 9.1, 0, 2.0, 0, 0.4, 13.8, 1.5, 0.8, 0, 5.3, 0, 0, 0.5, 0, 11.7]
];
const D_NRS = [
  [0.9, 73.6, 0, 0.6, 0.4, 0.6, 4.6, 0.7, 0, 0.9, 0, 0, 0.3, 0, 0.5, 9.4, 5.3, 1.6, 0.6, 0],
  [11.8, 37.5, 0.2, 2.3, 0.2, 5.7, 13.3, 1.3, 0, 3.1, 0.7, 1.0, 0.4, 0, 1.9, 6.4, 7.0, 5.0, 1.8, 0.4],
  [18.4, 27.4, 0.4, 3.1, 0, 10.5, 8.7, 1.6, 0, 2.9, 1.6, 0.7, 0.3, 0, 4.0, 3.8, 8.1, 6.2, 1.1, 1.2],
  [26.2, 31.1, 1.4, 1.7, 0.2, 6.9, 7.1, 1.5, 0, 2.4, 0.9, 0.8, 0.4, 0, 3.9, 2.7, 6.4, 3.8, 1.0, 1.6],
  [25.4, 24.9, 1.0, 1.7, 0.2, 7.3, 8.8, 2.2, 0, 3.0, 2.0, 1.2, 0.4, 0, 4.6, 1.2, 6.5, 3.8, 0.8, 5.0],
  [12.4, 37.9, 0.5, 2.8, 0.8, 3.8, 8.8, 1.3, 0, 3.5, 1.0, 0.5, 0.4, 0, 5.3, 5.7, 7.9, 4.5, 1.6, 1.3],
  [28.1, 22.6, 0.7, 2.8, 0.2, 5.6, 7.9, 1.8, 0, 4.4, 1.7, 1.1, 0.2, 0, 5.6, 1.6, 7.2, 4.2, 1.2, 3.1],
  [25.6, 22.6, 1.3, 3.1, 0.4, 6.6, 7.4, 1.7, 0, 3.7, 1.4, 1.3, 0.2, 0, 5.3, 3.3, 6.4, 4.4, 2.0, 3.3],
  [20.6, 23.1, 2.8, 2.5, 0, 7.7, 6.6, 2.1, 0, 2.0, 1.9, 1.4, 0, 0, 9.7, 1.9, 4.3, 3.3, 1.0, 9.1],
  [19.3, 30.6, 1.3, 1.6, 0.2, 8.7, 7.5, 1.9, 0, 2.3, 2.1, 0.8, 0.2, 0, 6.2, 1.2, 4.6, 4.2, 0.5, 6.6],
  [14.7, 14.8, 8.7, 1.6, 0.4, 16.1, 4.5, 2.9, 0, 0.9, 5.9, 2.1, 0, 0, 7.6, 1.4, 3.4, 2.3, 0.4, 12.3]
];
const D_C1 = [
  [0.9, 0, 0, 7.6, 54.2, 0, 0, 2.7, 0.4, 4.1, 0, 0, 8.3, 1.2, 0, 13.2, 0, 0, 7.4, 0],
  [17.0, 0, 0, 5.6, 8.4, 2.8, 0, 7.6, 21.3, 6.1, 0, 4.8, 10.8, 5.3, 0.9, 1.3, 0, 1.7, 6.1, 0.3],
  [7.2, 0, 0, 3.1, 7.5, 4.1, 0, 7.5, 14.5, 9.9, 0, 5.3, 18.5, 5.5, 1.3, 1.6, 0, 1.9, 12.1, 0],
  [25.0, 0, 0, 5.1, 2.6, 7.2, 0, 11.1, 9.4, 4.9, 0, 6.3, 7.4, 12.8, 2.5, 1.0, 0, 1.5, 3.2, 0],
  [31.8, 0.9, 0, 6.2, 2.5, 7.6, 0.4, 10.8, 2.9, 2.4, 0, 6.9, 5.4, 12.2, 3.2, 0.5, 0.8, 2.6, 2.0, 0.9],
  [28.3, 0.2, 0, 8.7, 2.1, 6.6, 0, 11.4, 3.1, 0.6, 0, 5.6, 2.5, 17.4, 3.5, 0.5, 0, 2.2, 0, 7.3],
  [15.3, 0.8, 0, 3.9, 0.7, 13.0, 0.4, 9.7, 0.7, 1.0, 0, 9.7, 3.9, 21.7, 6.6, 0.5, 2.3, 4.7, 0.9, 4.2]
];
const D_C2 = [
  [0.6, 0, 0, 10.0, 47.5, 0, 0, 4.3, 0, 6.9, 0, 0.3, 14.1, 2.1, 0.3, 0, 0, 0, 13.9, 0],
  [2.3, 0, 0, 21.7, 27.1, 0, 0, 3.7, 4.6, 9.0, 0, 1.2, 14.1, 2.8, 0.3, 0, 0, 0, 13.2, 0],
  [1.4, 0, 0, 23.4, 18.6, 0.2, 0, 4.0, 4.5, 12.0, 0, 1.9, 16.9, 3.1, 0.4, 0, 0, 0, 13.6, 0],
  [1.9, 0, 0, 7.0, 35.6, 0.2, 0, 4.3, 14.7, 5.4, 0, 4.6, 11.9, 2.3, 0.4, 0, 0, 0, 11.7, 0],
  [7.7, 0, 0, 11.5, 8.1, 0.6, 0, 5.0, 30.2, 9.5, 0, 5.2, 9.3, 5.5, 0.6, 0, 0, 0, 6.8, 0],
  [11.1, 0, 0, 18.7, 5.1, 1.1, 0, 4.4, 27.6, 9.2, 0, 7.2, 5.8, 4.5, 0.6, 0, 0, 0, 4.7, 0],
  [16.3, 0, 0, 14.5, 6.4, 2.8, 0, 4.5, 10.7, 10.9, 0, 7.3, 6.8, 13.5, 1.0, 0, 0, 0, 5.3, 0],
  [14.9, 0, 0, 14.8, 7.1, 2.3, 0.4, 4.5, 11.8, 11.8, 0, 6.6, 6.6, 13.2, 0.9, 0, 0, 0, 5.1, 0],
  [20.8, 0, 0, 15.6, 6.4, 2.5, 0, 3.1, 19.6, 10.4, 0, 5.1, 3.0, 9.5, 0.8, 0, 0, 0, 3.2, 0],
  [16.3, 0, 0, 10.6, 1.6, 7.8, 0, 6.1, 5.5, 8.9, 0, 13.3, 8.0, 13.5, 4.1, 0, 0, 0, 4.0, 0.3],
  [22.9, 0, 0, 15.4, 8.0, 4.4, 0, 6.5, 5.5, 5.3, 0, 6.0, 4.2, 17.5, 2.1, 0, 0, 0, 1.7, 0.5],
  [23.6, 0, 0, 22.5, 6.6, 3.1, 0, 9.1, 7.3, 2.5, 0, 4.2, 2.8, 15.5, 1.3, 0, 0, 0, 0.6, 0.9]
];

const SERIF = '"Liberation Serif", "Times New Roman", serif';

// text drawn with a horizontal stretch (the reference uses wide bold digits)
function wideText(ctx, txt, x, y, sx, align) {
  ctx.save();
  ctx.translate(x, y);
  ctx.scale(sx, 1);
  ctx.textAlign = align;
  ctx.fillText(txt, 0, 0);
  ctx.restore();
}

const decor = {
  id: 'decor',
  afterDraw(chart, args, o) {
    const { ctx, chartArea: ca } = chart;
    const x = chart.scales.x, y = chart.scales.y;
    ctx.save();
    ctx.fillStyle = '#111';
    ctx.strokeStyle = '#111';

    // frame round the plot
    ctx.lineWidth = 1.6;
    ctx.strokeRect(ca.left, ca.top, ca.right - ca.left, ca.bottom - ca.top);

    // x ticks and labels
    ctx.lineWidth = 1;
    for (let v = 0; v <= 100; v += 5) {
      const px = x.getPixelForValue(v);
      ctx.beginPath();
      ctx.moveTo(px, ca.bottom);
      ctx.lineTo(px, ca.bottom + 4);
      ctx.stroke();
    }
    ctx.font = 'bold 13px ' + SERIF;
    ctx.textBaseline = 'middle';
    xTicks.forEach(v => {
      wideText(ctx, v === 100 ? '100%' : String(v), x.getPixelForValue(v), ca.bottom + 11, 1.42, 'center');
    });

    // depth ticks and labels
    ctx.font = 'bold 10px ' + SERIF;
    chart.data.labels.forEach((lab, i) => {
      const py = y.getPixelForValue(i);
      ctx.beginPath();
      ctx.moveTo(ca.left - 4, py);
      ctx.lineTo(ca.left, py);
      ctx.stroke();
      wideText(ctx, lab, ca.left - 5, py + 0.5, 1.25, 'right');
    });

    // group brackets and rotated names
    let start = 0;
    o.counts.forEach((n, g) => {
      const y0 = y.getPixelForValue(start) - 3;
      const y1 = y.getPixelForValue(start + n - 1) + 2;
      ctx.lineWidth = 2;
      ctx.beginPath();
      ctx.moveTo(o.bracketX, y0);
      ctx.lineTo(o.bracketX, y1);
      ctx.stroke();
      ctx.save();
      ctx.translate(o.bracketX - 9, (y0 + y1) / 2);
      ctx.rotate(-Math.PI / 2);
      ctx.scale(1, 1.15);
      ctx.font = 'bold 14px ' + SERIF;
      ctx.textAlign = 'center';
      ctx.textBaseline = 'middle';
      ctx.fillText(groupNames[g], 0, 0);
      ctx.restore();
      start += n;
    });

    // axis title
    ctx.font = 'bold 12px ' + SERIF;
    ctx.textAlign = 'right';
    ctx.textBaseline = 'alphabetic';
    ctx.fillText('cmbsf', ca.left + 2, ca.top - 3);

    // panel letter
    ctx.font = 'bold 26px "Liberation Sans", Arial, sans-serif';
    ctx.textAlign = 'left';
    ctx.fillText(o.letter, 2, 23);

    // legend
    ctx.font = '11px ' + SERIF;
    ctx.textBaseline = 'middle';
    chart.data.datasets.forEach((ds, k) => {
      const ly = o.legendY + k * 15.16;
      ctx.fillStyle = ds.backgroundColor;
      ctx.fillRect(o.legendX, ly - 4.5, 9, 9);
      ctx.fillStyle = '#1a1a1a';
      ctx.fillText(ds.label, o.legendX + 16, ly + 0.5);
    });
    ctx.restore();
  }
};

function buildPanel(id, letter, names, groups, box) {
  const canvas = document.getElementById(id);
  const W = canvas.width, H = canvas.height;
  const rows = [].concat(...groups);
  const labels = [].concat(depthsSRS1, depthsSRS2, depthsNRS, depthsC1, depthsC2);
  const sums = rows.map(r => r.reduce((a, b) => a + b, 0));
  const datasets = names.map((name, k) => ({
    label: name,
    data: rows.map((r, i) => r[k] / sums[i] * 100),
    backgroundColor: palette[k],
    borderWidth: 0,
    barPercentage: 0.6,
    categoryPercentage: 1
  }));
  new Chart(canvas.getContext('2d'), {
    type: 'bar',
    data: { labels, datasets },
    options: {
      indexAxis: 'y',
      responsive: false,
      animation: false,
      layout: {
        padding: { left: box.L - 10, right: W - box.R, top: box.T, bottom: H - box.B - 10 }
      },
      plugins: {
        legend: { display: false },
        tooltip: { enabled: false },
        decor: {
          letter,
          counts: groups.map(g => g.length),
          bracketX: box.bracketX,
          legendX: box.legendX,
          legendY: box.legendY
        }
      },
      scales: {
        x: {
          stacked: true, min: 0, max: 100,
          grid: { display: false }, border: { display: false },
          ticks: { display: false },
          afterFit: s => { s.height = 10; }
        },
        y: {
          stacked: true,
          grid: { display: false }, border: { display: false },
          ticks: { display: false },
          afterFit: s => { s.width = 10; }
        }
      }
    },
    plugins: [decor]
  });
}

buildPanel('panelA', 'A', A_names, [A_SRS1, A_SRS2, A_NRS, A_C1, A_C2],
  { L: 48.7, R: 488.7, T: 40, B: 572.7, bracketX: 19, legendX: 497, legendY: 49 });
buildPanel('panelB', 'B', B_names, [B_SRS1, B_SRS2, B_NRS, B_C1, B_C2],
  { L: 61, R: 488.3, T: 40, B: 573.3, bracketX: 32, legendX: 500, legendY: 49 });
buildPanel('panelC', 'C', C_names, [C_SRS1, C_SRS2, C_NRS, C_C1, C_C2],
  { L: 48.3, R: 486, T: 42, B: 573, bracketX: 18.5, legendX: 497, legendY: 50 });
buildPanel('panelD', 'D', D_names, [D_SRS1, D_SRS2, D_NRS, D_C1, D_C2],
  { L: 59.3, R: 488.3, T: 40, B: 571.7, bracketX: 35, legendX: 500, legendY: 50 });
</script>
</body>
</html>
